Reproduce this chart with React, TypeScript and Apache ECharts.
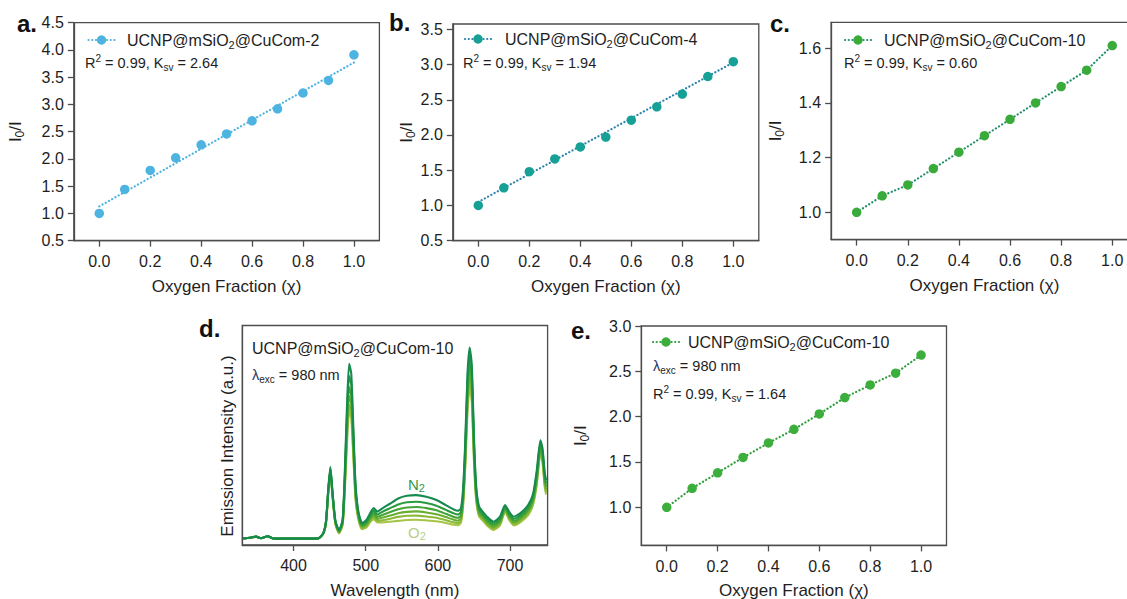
import React, { useEffect, useRef } from "react";
import * as echarts from "echarts";

// ---------- data ----------
const chiValues = [0, 0.1, 0.2, 0.3, 0.4, 0.5, 0.6, 0.7, 0.8, 0.9, 1.0];
const ratioA = [1.0, 1.44, 1.79, 2.02, 2.26, 2.46, 2.7, 2.92, 3.21, 3.44, 3.91];
const fitA = [1.13, 3.77];
const ratioB = [1.0, 1.25, 1.48, 1.66, 1.83, 1.97, 2.21, 2.4, 2.58, 2.83, 3.04];
const fitB = [1.05, 3.03];
const ratioC = [1.0, 1.06, 1.1, 1.16, 1.22, 1.28, 1.34, 1.4, 1.46, 1.52, 1.61];
const ratioE = [1.0, 1.21, 1.38, 1.55, 1.71, 1.86, 2.03, 2.21, 2.35, 2.48, 2.68];

const chiTicks = [0, 0.2, 0.4, 0.6, 0.8, 1.0];
const yTicksA = [0.5, 1.0, 1.5, 2.0, 2.5, 3.0, 3.5, 4.0, 4.5];
const yTicksB = [0.5, 1.0, 1.5, 2.0, 2.5, 3.0, 3.5];
const yTicksC = [1.0, 1.2, 1.4, 1.6];
const yTicksE = [1.0, 1.5, 2.0, 2.5, 3.0];
const wlTicks = [400, 500, 600, 700];

const wavelengths = [330, 340, 348, 355, 364, 372, 380, 400, 420, 434, 441, 445, 448, 451, 454, 458, 463, 468, 471, 474, 477, 480, 483, 486, 490, 495, 501, 507, 511, 516, 523, 534, 545, 557, 570, 584, 598, 611, 622, 628, 632, 635, 638, 641, 644, 647, 650, 653, 657, 662, 668, 677, 686, 693, 699, 705, 714, 725, 732, 737, 742, 745, 748, 750];
const specChi00 = [3.0, 3.3, 3.8, 3.1, 4.0, 3.0, 2.9, 2.9, 2.9, 3.0, 5.3, 11, 25, 35.5, 24, 11, 6.8, 11.5, 33, 63, 82.5, 78, 52, 27, 15, 10, 11.4, 15, 16.8, 15.2, 16.7, 18.9, 21.2, 22.4, 22.7, 22.0, 20.5, 18.2, 16.2, 15.6, 16.8, 26, 48, 78, 90, 82, 49, 27, 17.5, 15.2, 12.9, 10.6, 12.9, 18.2, 15.0, 12.9, 14.4, 18.2, 23.5, 34, 47.7, 44, 33, 29.5];
const specChi02 = [3.0, 3.3, 3.8, 3.1, 4.0, 3.0, 2.9, 2.9, 2.9, 3.0, 5.2, 10.8, 24.6, 35, 23.6, 10.7, 6.5, 11, 31, 59, 77, 73, 49, 25.5, 14.2, 9.4, 10.6, 14, 15.6, 13.9, 15.1, 16.8, 18.5, 19.5, 19.7, 19.1, 17.9, 16.0, 14.4, 13.9, 15.1, 24, 45, 74, 86, 78, 46.5, 25.5, 16.4, 14.2, 11.9, 9.7, 11.9, 17.5, 14.1, 11.9, 13.4, 17.1, 22.3, 32.5, 46.3, 42.5, 31.5, 28];
const specChi04 = [3.0, 3.3, 3.8, 3.1, 4.0, 3.0, 2.9, 2.9, 2.9, 3.0, 5.2, 10.6, 24.2, 34.5, 23.2, 10.4, 6.2, 10.5, 29, 55, 72, 68, 46, 24, 13.4, 8.8, 9.9, 13, 14.5, 12.8, 13.7, 15, 16.3, 17.1, 17.3, 16.8, 15.8, 14.2, 12.8, 12.4, 13.6, 22.3, 42.5, 70, 82, 74.5, 44, 24, 15.4, 13.3, 11, 8.9, 11, 16.8, 13.3, 11, 12.5, 16.1, 21.2, 31, 45, 41, 30, 26.6];
const specChi06 = [3.0, 3.3, 3.8, 3.1, 4.0, 3.0, 2.9, 2.9, 2.9, 3.0, 5.1, 10.4, 23.8, 34, 22.8, 10.1, 5.9, 10, 27.5, 52, 68, 64, 43.5, 22.5, 12.7, 8.2, 9.2, 12.2, 13.5, 11.9, 12.5, 13.4, 14.5, 15.1, 15.3, 14.8, 14.0, 12.7, 11.5, 11.1, 12.3, 20.8, 40, 66.5, 78.5, 71, 42, 22.8, 14.5, 12.5, 10.2, 8.1, 10.2, 16.2, 12.6, 10.2, 11.7, 15.2, 20.2, 29.7, 43.8, 39.7, 28.7, 25.3];
const specChi08 = [3.0, 3.3, 3.8, 3.1, 4.0, 3.0, 2.9, 2.9, 2.9, 3.0, 5.1, 10.2, 23.4, 33.5, 22.4, 9.8, 5.6, 9.6, 26, 49, 64, 60.5, 41, 21.5, 12, 7.7, 8.6, 11.5, 12.6, 11, 11.3, 12, 12.8, 13.3, 13.4, 13.0, 12.4, 11.3, 10.3, 10.0, 11.2, 19.5, 38, 63.5, 75, 68, 40, 21.6, 13.7, 11.8, 9.5, 7.4, 9.5, 15.6, 11.9, 9.5, 11, 14.4, 19.3, 28.5, 42.7, 38.5, 27.5, 24.1];
const specChi10 = [3.0, 3.3, 3.8, 3.1, 4.0, 3.0, 2.9, 2.9, 2.9, 3.0, 5.0, 10, 23, 33, 22, 9.5, 5.3, 9.2, 24.5, 46, 61, 57.5, 39, 20.5, 11.4, 7.2, 8.0, 10.8, 11.8, 10.3, 10.3, 10.6, 11.0, 11.4, 11.5, 11.2, 10.8, 10.0, 9.2, 9.0, 10.2, 18.3, 36, 60.5, 72, 65, 38, 20.5, 13, 11.2, 8.9, 6.8, 8.9, 15, 11.3, 8.9, 10.3, 13.6, 18.5, 27.4, 41.7, 37.4, 26.4, 23];

const spectra = [specChi10, specChi08, specChi06, specChi04, specChi02, specChi00];
const spectraColors = ["#a8c446", "#8cba38", "#68ae30", "#45a436", "#2a9a3e", "#178a4e"];

// ---------- styles ----------
const FF = "'Liberation Sans', Arial, Helvetica, sans-serif";
const AXIS = "#4d4d4d";
const TXT = "#1e1e1e";
const DOTS = [0.1, 3.6];

function rich(size: number, color: string) {
  const s = Math.round(size * 0.7);
  return {
    n: { fontSize: size, fontFamily: FF, fill: color, color, lineHeight: size + 4 },
    sub: { fontSize: s, fontFamily: FF, fill: color, color, lineHeight: 8, verticalAlign: "bottom" },
    sup: { fontSize: s, fontFamily: FF, fill: color, color, lineHeight: 8, verticalAlign: "top" },
    l: { fontSize: size, fontFamily: FF, fill: "#2b3a67", color: "#2b3a67", lineHeight: size + 4 },
  };
}

function xChi(gridIndex: number) {
  return {
    type: "value",
    gridIndex,
    min: -0.1,
    max: 1.1,
    axisLine: { show: true, onZero: false, lineStyle: { color: AXIS, width: 1.3 } },
    axisTick: { show: true, customValues: chiTicks, length: 6, lineStyle: { color: AXIS, width: 1.3 } },
    axisLabel: {
      customValues: chiTicks,
      formatter: (v: number) => v.toFixed(1),
      margin: 13,
      fontSize: 16,
      fontFamily: FF,
      color: TXT,
    },
    splitLine: { show: false },
    name: "Oxygen Fraction (χ)",
    nameLocation: "middle",
    nameGap: 37,
    nameTextStyle: { fontSize: 17, fontFamily: FF, color: TXT },
  };
}

function yRatio(gridIndex: number, min: number, max: number, ticks: number[], gap: number) {
  return {
    type: "value",
    gridIndex,
    min,
    max,
    axisLine: { show: true, onZero: false, lineStyle: { color: AXIS, width: 1.3 } },
    axisTick: { show: true, customValues: ticks, length: 6, lineStyle: { color: AXIS, width: 1.3 } },
    axisLabel: {
      customValues: ticks,
      formatter: (v: number) => v.toFixed(1),
      margin: 10,
      fontSize: 16,
      fontFamily: FF,
      color: TXT,
    },
    splitLine: { show: false },
    name: "{n|I}{sub|0}{n|/I}",
    nameLocation: "middle",
    nameRotate: 90,
    nameGap: gap,
    nameTextStyle: { fontSize: 17, fontFamily: FF, color: TXT, rich: rich(17, TXT) },
  };
}

function legend(cx: number, cy: number, textX: number, label: string, pointColor: string, lineColor: string) {
  return [
    {
      type: "line",
      shape: { x1: cx - 13, y1: cy, x2: cx + 13, y2: cy },
      style: { stroke: lineColor, lineWidth: 2.2, lineDash: DOTS, lineCap: "round" },
    },
    { type: "circle", shape: { cx, cy, r: 4.7 }, style: { fill: pointColor } },
    {
      type: "text",
      x: textX,
      y: cy,
      style: { text: label, rich: rich(16, TXT), align: "left", verticalAlign: "middle", fill: TXT },
    },
  ];
}

function txt(x: number, y: number, text: string, size: number, color = TXT) {
  return {
    type: "text",
    x,
    y,
    style: { text, rich: rich(size, color), align: "left", verticalAlign: "middle", fill: color, fontSize: size, fontFamily: FF },
  };
}

function panelLabel(x: number, y: number, t: string) {
  return {
    type: "text",
    x,
    y,
    style: { text: t, fill: "#111", fontSize: 24, fontWeight: "bold", fontFamily: FF, align: "left", verticalAlign: "middle" },
  };
}

function scatter(idx: number, ys: number[], color: string) {
  return {
    type: "scatter",
    xAxisIndex: idx,
    yAxisIndex: idx,
    symbol: "circle",
    symbolSize: 9.5,
    itemStyle: { color, opacity: 1 },
    data: chiValues.map((x, i) => [x, ys[i]]),
    z: 3,
  };
}

function dotted(idx: number, pts: number[][], color: string) {
  return {
    type: "line",
    xAxisIndex: idx,
    yAxisIndex: idx,
    symbol: "none",
    lineStyle: { color, width: 2.2, type: DOTS, cap: "round" },
    data: pts,
    z: 2,
  };
}

const grids = [
  { left: 73.8, top: 22.7, width: 305.6, height: 218 },
  { left: 452.8, top: 24, width: 306, height: 216.7 },
  { left: 831.1, top: 22.3, width: 306.7, height: 217.3 },
  { left: 242.3, top: 325.5, width: 305.3, height: 219.5 },
  { left: 641.3, top: 326, width: 305.2, height: 219.4 },
].map((g) => ({ ...g, show: true, borderColor: AXIS, borderWidth: 1.3, backgroundColor: "transparent", containLabel: false, outerBoundsMode: "none" }));

const option: any = {
  animation: false,
  backgroundColor: "#ffffff",
  grid: grids,
  xAxis: [
    xChi(0),
    xChi(1),
    xChi(2),
    {
      type: "value",
      gridIndex: 3,
      min: 329,
      max: 752,
      axisLine: { show: true, onZero: false, lineStyle: { color: AXIS, width: 1.3 } },
      axisTick: { show: true, customValues: wlTicks, length: 6, lineStyle: { color: AXIS, width: 1.3 } },
      axisLabel: { customValues: wlTicks, margin: 12, fontSize: 16, fontFamily: FF, color: TXT },
      splitLine: { show: false },
      name: "Wavelength (nm)",
      nameLocation: "middle",
      nameGap: 37,
      nameTextStyle: { fontSize: 17, fontFamily: FF, color: TXT },
    },
    xChi(4),
  ],
  yAxis: [
    yRatio(0, 0.5, 4.5, yTicksA, 48),
    yRatio(1, 0.5, 3.575, yTicksB, 34),
    yRatio(2, 0.9, 1.695, yTicksC, 45),
    {
      type: "value",
      gridIndex: 3,
      min: 0,
      max: 100,
      axisLine: { show: true, onZero: false, lineStyle: { color: AXIS, width: 1.3 } },
      axisTick: { show: false },
      axisLabel: { show: false },
      splitLine: { show: false },
    },
    yRatio(4, 0.58, 3.0, yTicksE, 50),
  ],
  series: [
    dotted(0, [[0, fitA[0]], [1, fitA[1]]], "#4db3e1"),
    scatter(0, ratioA, "#4db3e1"),
    dotted(1, [[0, fitB[0]], [1, fitB[1]]], "#2c83ad"),
    scatter(1, ratioB, "#17a096"),
    dotted(2, chiValues.map((x, i) => [x, ratioC[i]]), "#1f8f6a"),
    scatter(2, ratioC, "#3aab3a"),
    ...spectra.map((s, k) => ({
      type: "line",
      xAxisIndex: 3,
      yAxisIndex: 3,
      symbol: "none",
      smooth: 0.2,
      lineStyle: { color: spectraColors[k], width: 2.1 },
      data: wavelengths.map((w, i) => [w, s[i]]),
      z: 2 + k * 0.01,
    })),
    dotted(4, chiValues.map((x, i) => [x, ratioE[i]]), "#2d9e3a"),
    scatter(4, ratioE, "#3cae3c"),
  ],
  graphic: [
    panelLabel(17, 23.5, "a."),
    panelLabel(389, 22.5, "b."),
    panelLabel(770, 23.5, "c."),
    panelLabel(199, 328.5, "d."),
    panelLabel(571, 330, "e."),
    ...legend(101.5, 40, 127, "{n|UCNP@mSiO}{sub|2}{n|@CuCom-2}", "#4db3e1", "#4db3e1"),
    txt(85, 63, "{n|R}{sup|2}{n| = 0.99, K}{sub|sv}{n| = 2.64}", 14.5),
    ...legend(478, 39, 505, "{n|UCNP@mSiO}{sub|2}{n|@CuCom-4}", "#17a096", "#2c83ad"),
    txt(463, 63, "{n|R}{sup|2}{n| = 0.99, K}{sub|sv}{n| = 1.94}", 14.5),
    ...legend(858, 40, 884, "{n|UCNP@mSiO}{sub|2}{n|@CuCom-10}", "#3aab3a", "#1f8f6a"),
    txt(844, 63, "{n|R}{sup|2}{n| = 0.99, K}{sub|sv}{n| = 0.60}", 14.5),
    ...legend(666, 342, 688, "{n|UCNP@mSiO}{sub|2}{n|@CuCom-10}", "#3cae3c", "#2d9e3a"),
    txt(653, 366, "{l|λ}{sub|exc}{n| = 980 nm}", 14.5),
    txt(653, 394, "{n|R}{sup|2}{n| = 0.99, K}{sub|sv}{n| = 1.64}", 14.5),
    txt(252, 348, "{n|UCNP@mSiO}{sub|2}{n|@CuCom-10}", 16),
    txt(252, 375, "{l|λ}{sub|exc}{n| = 980 nm}", 14.5),
    txt(408, 484, "{n|N}{sub|2}", 15, "#2f9a46"),
    txt(408, 532, "{n|O}{sub|2}", 15, "#b7cf86"),
    {
      type: "text",
      x: 227.5,
      y: 446,
      rotation: Math.PI / 2,
      style: { text: "Emission Intensity (a.u.)", fill: TXT, fontSize: 17, fontFamily: FF, align: "center", verticalAlign: "middle" },
    },
  ],
};

export default function App() {
  const ref = useRef<HTMLDivElement>(null);
  useEffect(() => {
    const chart = echarts.init(ref.current!, null, { renderer: "svg" });
    chart.setOption(option);
    return () => chart.dispose();
  }, []);
  return (
    <div
      ref={ref}
      style={{ position: "absolute", left: 0, top: 0, width: 1127, height: 599, background: "#fff", overflow: "hidden" }}
    />
  );
}
